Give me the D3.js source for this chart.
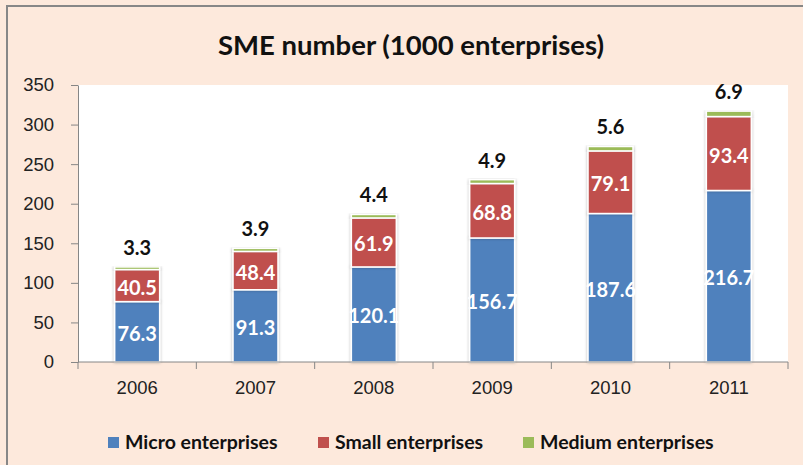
<!DOCTYPE html>
<html>
<head>
<meta charset="utf-8">
<script src="https://cdn.jsdelivr.net/npm/d3@7"></script>
<style>
  body { margin: 0; background: #fde9dc; }
  svg { display: block; font-family: Lato, "Open Sans", sans-serif; }
  .axis path, .axis line { stroke: #868686; }
  .axis text { fill: #222; font-size: 18.5px; }
</style>
</head>
<body>
<svg width="803" height="465"></svg>
<script>
const years = ['2006', '2007', '2008', '2009', '2010', '2011'];
const micro = [76.3, 91.3, 120.1, 156.7, 187.6, 216.7];
const small = [40.5, 48.4, 61.9, 68.8, 79.1, 93.4];
const medium = [3.3, 3.9, 4.4, 4.9, 5.6, 6.9];
const seriesNames = ['Micro enterprises', 'Small enterprises', 'Medium enterprises'];
const yTicks = [0, 50, 100, 150, 200, 250, 300, 350];
const title = 'SME number (1000 enterprises)';

const colors = ['#4f81bd', '#c0504d', '#9bbb59'];

const svg = d3.select('svg');
const margin = { top: 85, right: 15, bottom: 103, left: 78 };
const width = +svg.attr('width') - margin.left - margin.right;
const height = +svg.attr('height') - margin.top - margin.bottom;

// frame (only top and left edges show)
svg.append('rect')
  .attr('x', 7).attr('y', 6)
  .attr('width', 820).attr('height', 500)
  .attr('fill', '#fde9dc')
  .attr('stroke', '#878787')
  .attr('stroke-width', 2);

svg.append('text')
  .attr('x', 411)
  .attr('y', 55)
  .attr('text-anchor', 'middle')
  .attr('font-size', 27.5)
  .attr('font-weight', 'bold')
  .attr('fill', '#111')
  .text(title);

const defs = svg.append('defs');
const shadow = defs.append('filter').attr('id', 'shadow')
  .attr('x', '-20%').attr('y', '-20%').attr('width', '140%').attr('height', '140%');
shadow.append('feDropShadow')
  .attr('dx', 0).attr('dy', 0).attr('stdDeviation', 1.6)
  .attr('flood-color', '#000').attr('flood-opacity', 0.3);

const g = svg.append('g')
  .attr('transform', `translate(${margin.left}, ${margin.top})`);

g.append('rect')
  .attr('width', width).attr('height', height)
  .attr('fill', '#fff');

const x = d3.scaleBand().domain(years).range([0, width]).paddingInner(0.62).paddingOuter(0.31);
const y = d3.scaleLinear().domain([0, 350]).range([height, 0]);

const table = years.map((yr, i) => ({ year: yr, micro: micro[i], small: small[i], medium: medium[i] }));
const keys = ['micro', 'small', 'medium'];
const stack = d3.stack().keys(keys)(table);

// Bars
const layers = g.append('g')
  .selectAll('g')
  .data(stack)
  .enter()
  .append('g')
  .attr('fill', (d, i) => colors[i]);

layers.selectAll('rect')
  .data(d => d)
  .enter()
  .append('rect')
  .attr('x', d => x(d.data.year))
  .attr('y', d => y(d[1]))
  .attr('width', x.bandwidth())
  .attr('height', d => y(d[0]) - y(d[1]))
  .attr('stroke', '#fff')
  .attr('stroke-width', 1.5)
  .attr('filter', 'url(#shadow)');

// Labels inside micro and small segments
stack.slice(0, 2).forEach(layer => {
  g.append('g')
    .selectAll('text')
    .data(layer)
    .enter()
    .append('text')
    .attr('x', d => x(d.data.year) + x.bandwidth() / 2)
    .attr('y', d => (y(d[0]) + y(d[1])) / 2)
    .attr('dy', '0.45em')
    .attr('text-anchor', 'middle')
    .attr('font-size', 20)
    .attr('font-weight', 'bold')
    .attr('fill', '#fff')
    .text(d => d.data[layer.key].toFixed(1));
});

// Medium labels above bars
g.append('g')
  .selectAll('text')
  .data(stack[2])
  .enter()
  .append('text')
  .attr('x', d => x(d.data.year) + x.bandwidth() / 2)
  .attr('y', d => y(d[1]) - 12)
  .attr('text-anchor', 'middle')
  .attr('font-size', 20)
  .attr('font-weight', 'bold')
  .attr('fill', '#111')
  .text(d => d.data.medium.toFixed(1));

// X-Axis
const xAxis = g.append('g')
  .attr('class', 'axis')
  .attr('transform', `translate(0,${height})`)
  .call(d3.axisBottom(x).tickSize(0).tickPadding(19));
xAxis.selectAll('.tick line').remove();
xAxis.select('.domain').attr('d', `M0,0H${width}`);
xAxis.append('g')
  .selectAll('line')
  .data(d3.range(years.length + 1))
  .enter()
  .append('line')
  .attr('x1', i => i * x.step())
  .attr('x2', i => i * x.step())
  .attr('y1', 0)
  .attr('y2', 7)
  .attr('stroke', '#868686');

// Y-Axis
g.append('g')
  .attr('class', 'axis')
  .call(d3.axisLeft(y).tickValues(yTicks).tickSize(7).tickSizeOuter(0).tickPadding(17));

// Legend
const legendX = [108, 318, 523];
const legend = svg.append('g')
  .selectAll('g')
  .data(seriesNames)
  .enter()
  .append('g')
  .attr('transform', (d, i) => `translate(${legendX[i]}, 442)`);
legend.append('rect')
  .attr('x', 0).attr('y', -5)
  .attr('width', 11).attr('height', 11)
  .attr('fill', (d, i) => colors[i]);
legend.append('text')
  .attr('x', 17)
  .attr('dy', '0.36em')
  .attr('font-size', 19.5)
  .attr('font-weight', 'bold')
  .attr('fill', '#111')
  .text(d => d);
</script>
</body>
</html>
